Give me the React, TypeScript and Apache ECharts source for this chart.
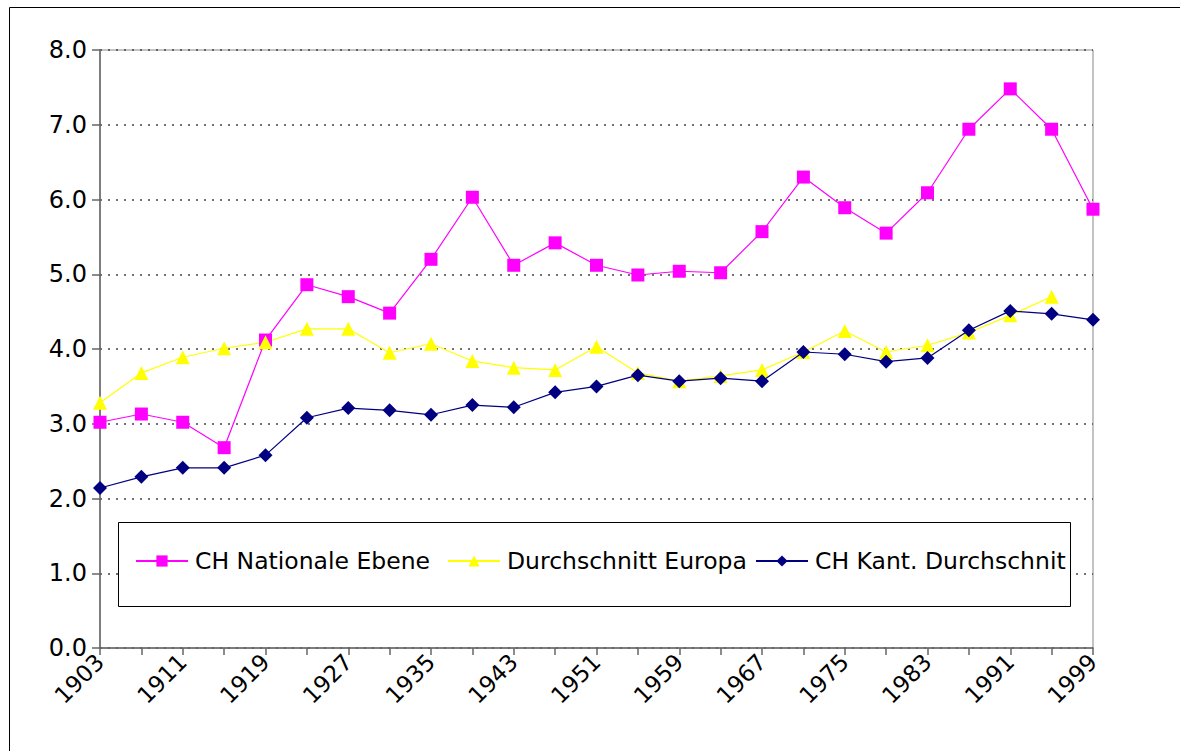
import React, { useEffect, useRef } from "react";
import * as echarts from "echarts";

const years = [
  "1903", "1907", "1911", "1915", "1919", "1923", "1927", "1931", "1935", "1939",
  "1943", "1947", "1951", "1955", "1959", "1963", "1967", "1971", "1975", "1979",
  "1983", "1987", "1991", "1995", "1999",
];

const chNational = [
  3.02, 3.13, 3.02, 2.68, 4.12, 4.86, 4.7, 4.48, 5.2, 6.03,
  5.12, 5.42, 5.12, 4.99, 5.04, 5.02, 5.57, 6.3, 5.89, 5.55,
  6.09, 6.94, 7.48, 6.94, 5.87,
];

const europa = [
  3.28, 3.68, 3.89, 4.01, 4.09, 4.27, 4.27, 3.95, 4.07, 3.84,
  3.75, 3.72, 4.03, 3.68, 3.57, 3.64, 3.72, 3.96, 4.24, 3.96,
  4.05, 4.22, 4.45, 4.7, null,
];

const chKantonal = [
  2.14, 2.29, 2.41, 2.41, 2.58, 3.08, 3.21, 3.18, 3.12, 3.25,
  3.22, 3.42, 3.5, 3.65, 3.57, 3.61, 3.57, 3.96, 3.93, 3.83,
  3.88, 4.25, 4.51, 4.47, 4.39,
];

const seriesNames = ["CH Nationale Ebene", "Durchschnitt Europa", "CH Kant. Durchschnitt"];

const FONT = "'DejaVu Sans', Verdana, sans-serif";

export default function App() {
  const ref = useRef<HTMLDivElement>(null);

  useEffect(() => {
    if (!ref.current) return;
    const chart = echarts.init(ref.current, undefined, { renderer: "svg" });
    const legendText = {
      fontFamily: FONT,
      fontSize: 23.5,
      color: "#000",
      padding: [0, 0, 0, 2],
    };
    const legendBase = {
      orient: "horizontal",
      top: 549,
      padding: 0,
      itemWidth: 52,
      itemHeight: 14,
      z: 10,
    };
    chart.setOption({
      animation: false,
      backgroundColor: "#fff",
      textStyle: { fontFamily: FONT },
      grid: {
        left: 100,
        right: 87,
        top: 50,
        bottom: 103,
        show: true,
        borderColor: "#888",
        borderWidth: 1,
        backgroundColor: "transparent",
      },
      graphic: [
        {
          type: "rect",
          z: 0,
          silent: true,
          shape: { x: 9.5, y: 7.5, width: 1400, height: 900 },
          style: { fill: "none", stroke: "#000", lineWidth: 1 },
        },
        {
          type: "rect",
          z: 5,
          silent: true,
          shape: { x: 118.5, y: 522.5, width: 952, height: 84 },
          style: { fill: "#fff", stroke: "#000", lineWidth: 1 },
        },
      ],
      legend: [
        { ...legendBase, left: 135, textStyle: legendText, data: [seriesNames[0]] },
        { ...legendBase, left: 447, textStyle: legendText, data: [seriesNames[1]] },
        {
          ...legendBase,
          left: 755,
          textStyle: {
            ...legendText,
            width: 252,
            overflow: "truncate",
            ellipsis: "",
          },
          data: [seriesNames[2]],
        },
      ],
      xAxis: {
        type: "category",
        data: years,
        boundaryGap: false,
        axisLine: { lineStyle: { color: "#666", width: 1.5 } },
        axisTick: { interval: 0, length: 7, lineStyle: { color: "#666", width: 1.5 } },
        axisLabel: {
          interval: 1,
          rotate: 45,
          margin: 10,
          fontFamily: FONT,
          fontSize: 23,
          color: "#000",
        },
        splitLine: { show: false },
      },
      yAxis: {
        type: "value",
        min: 0,
        max: 8,
        interval: 1,
        axisLine: { show: true, lineStyle: { color: "#666", width: 1.5 } },
        axisTick: { show: true, length: 8, lineStyle: { color: "#666", width: 1.5 } },
        axisLabel: {
          formatter: (v: number) => v.toFixed(1),
          margin: 13,
          fontFamily: FONT,
          fontSize: 24,
          color: "#000",
        },
        splitLine: {
          show: true,
          lineStyle: { color: "#444", width: 1.5, type: [2, 6] },
        },
      },
      series: [
        {
          name: seriesNames[0],
          type: "line",
          data: chNational,
          symbol: "rect",
          symbolSize: 13,
          itemStyle: { color: "#FF00FF" },
          lineStyle: { color: "#FF00FF", width: 1.2 },
          z: 3,
        },
        {
          name: seriesNames[1],
          type: "line",
          data: europa,
          symbol: "triangle",
          symbolSize: 14,
          itemStyle: { color: "#FFFF00" },
          lineStyle: { color: "#FFFF00", width: 1.2 },
          z: 3,
        },
        {
          name: seriesNames[2],
          type: "line",
          data: chKantonal,
          symbol: "diamond",
          symbolSize: 14,
          itemStyle: { color: "#000080" },
          lineStyle: { color: "#000080", width: 1.2 },
          z: 4,
        },
      ],
    });
    return () => chart.dispose();
  }, []);

  return (
    <div
      ref={ref}
      style={{ position: "absolute", left: 0, top: 0, width: 1180, height: 751 }}
    />
  );
}
